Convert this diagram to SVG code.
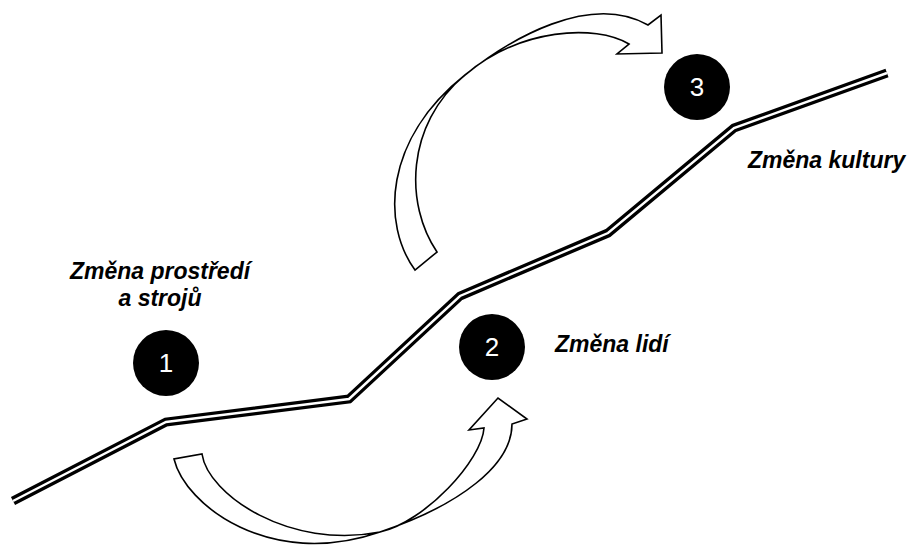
<svg xmlns="http://www.w3.org/2000/svg" width="912" height="545" viewBox="0 0 912 545">
  <style>
    .label { font-family: "Liberation Sans", Arial, sans-serif; font-size: 23px; font-weight: bold; font-style: italic; fill: #000; }
    .num { font-family: "Liberation Sans", Arial, sans-serif; font-size: 26px; fill: #fff; text-anchor: middle; }
    .badge { fill: #000; }
    .road-outer { fill: none; stroke: #000; stroke-width: 9; stroke-linejoin: miter; stroke-linecap: butt; }
    .road-inner { fill: none; stroke: #fff; stroke-width: 2.4; stroke-linejoin: miter; stroke-linecap: butt; }
    .flow { fill: #fff; stroke: #000; stroke-width: 1.6; stroke-linejoin: miter; }
  </style>

  <rect width="912" height="545" fill="#fff"/>

  <!-- change path: double line -->
  <g id="road">
    <polyline class="road-outer" points="13,501 166,422 349,399 460,296 608,233 734,128 887,73"/>
    <polyline class="road-inner" points="13,501 166,422 349,399 460,296 608,233 734,128 887,73"/>
  </g>

  <!-- curved block arrows -->
  <g id="connectors">
    <path class="flow" d="M415,270 C382,225 383,140 465,75 C510,39 590,-8 648,25 L661,15 L662,53 L617,54 L629,44 C595,24 520,28 465,75 C405,125 405,205 437,252 Z"/>
    <path class="flow" d="M174,459 C185,505 270,570 380,532 C460,505 512,465 512,424 L527,419 L498,398 L469,430 L484,428 C482,460 425,522 380,532 C290,550 208,495 202,454 Z"/>
  </g>

  <g id="node1">
    <circle class="badge" cx="166" cy="363" r="33"/>
    <text class="num" x="166" y="372">1</text>
    <text class="label" x="160" y="279" text-anchor="middle">Změna prostředí</text>
    <text class="label" x="160" y="306" text-anchor="middle">a strojů</text>
  </g>

  <g id="node2">
    <circle class="badge" cx="492" cy="347" r="33"/>
    <text class="num" x="492" y="356">2</text>
    <text class="label" x="555" y="352">Změna lidí</text>
  </g>

  <g id="node3">
    <circle class="badge" cx="697" cy="87" r="33"/>
    <text class="num" x="697" y="96">3</text>
    <text class="label" x="748" y="168">Změna kultury</text>
  </g>
</svg>
